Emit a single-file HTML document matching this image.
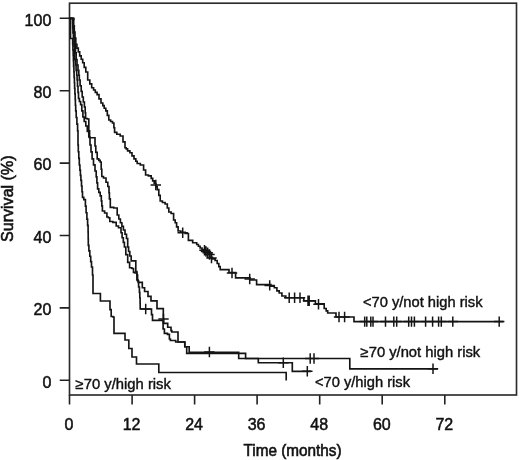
<!DOCTYPE html>
<html lang="en"><head><meta charset="utf-8"><title>Survival by age and risk group</title>
<style>
html,body{margin:0;padding:0;background:#fff;}
body{width:520px;height:460px;overflow:hidden;font-family:"Liberation Sans",Arial,Helvetica,sans-serif;}
svg{display:block;filter:blur(0.35px);}
</style></head><body>
<svg width="520" height="460" viewBox="0 0 520 460">
<rect width="520" height="460" fill="#fff"/>
<g fill="none" stroke="#141414" stroke-width="1.65" stroke-linejoin="miter">
<rect x="69.5" y="3.2" width="447.0" height="391.8" stroke="#2c2c2c" stroke-width="1.65"/>
<path d="M59.7,380.3H69.5M59.7,307.9H69.5M59.7,235.5H69.5M59.7,163.1H69.5M59.7,90.7H69.5M59.7,18.3H69.5M69.5,395.0V404.6M132.1,395.0V404.6M194.6,395.0V404.6M257.1,395.0V404.6M319.7,395.0V404.6M382.2,395.0V404.6M444.8,395.0V404.6" stroke-width="1.6" stroke="#222"/>
<path d="M69.5,18.3 L74.6,18.3 L74.0,18.3 L74.0,19.5 L73.4,19.5 L73.7,19.5 L73.7,25.8 L74.3,25.8 L74.3,32.0 L74.6,32.0 L75.0,32.0 L75.0,38.1 L75.8,38.1 L75.8,44.2 L76.2,44.2 L76.9,44.2 L76.9,48.1 L78.3,48.1 L78.3,51.9 L79.7,51.9 L79.7,55.8 L80.4,55.8 L81.2,55.8 L81.2,59.2 L82.7,59.2 L82.7,62.7 L83.5,62.7 L84.2,62.7 L84.2,67.3 L85.8,67.3 L85.8,72.0 L86.5,72.0 L87.7,72.0 L87.7,80.0 L88.8,80.0 L89.8,80.0 L89.8,83.8 L91.7,83.8 L91.7,87.7 L92.7,87.7 L93.6,87.7 L93.6,90.0 L95.3,90.0 L95.3,92.3 L97.1,92.3 L97.1,94.6 L98.0,94.6 L99.0,94.6 L99.0,98.8 L101.0,98.8 L101.0,103.0 L102.0,103.0 L102.8,103.0 L102.8,105.6 L104.2,105.6 L104.2,108.2 L105.8,108.2 L105.8,110.8 L106.5,110.8 L107.3,110.8 L107.3,115.4 L108.8,115.4 L108.8,120.0 L109.6,120.0 L110.6,120.0 L110.6,121.5 L112.5,121.5 L112.5,123.0 L113.5,123.0 L113.9,123.0 L113.9,127.7 L114.6,127.7 L114.6,132.3 L115.0,132.3 L116.8,132.3 L116.8,134.2 L120.2,134.2 L120.2,136.0 L122.0,136.0 L123.0,136.0 L123.0,141.8 L125.0,141.8 L125.0,147.7 L126.0,147.7 L126.2,147.7 L126.2,148.8 L126.5,148.8 L127.6,148.8 L127.6,150.8 L129.9,150.8 L129.9,152.7 L131.0,152.7 L132.0,152.7 L132.0,155.8 L134.0,155.8 L134.0,158.8 L135.0,158.8 L135.8,158.8 L135.8,161.2 L137.2,161.2 L137.2,163.5 L138.0,163.5 L140.3,163.5 L140.3,165.0 L142.7,165.0 L143.6,165.0 L143.6,170.0 L145.6,170.0 L145.6,175.0 L146.5,175.0 L148.4,175.0 L148.4,175.8 L150.4,175.8 L151.2,175.8 L151.2,178.4 L152.7,178.4 L152.7,180.9 L154.2,180.9 L154.2,183.5 L155.0,183.5 L155.8,183.5 L155.8,186.6 L157.2,186.6 L157.2,189.6 L158.0,189.6 L158.8,189.6 L158.8,195.3 L160.2,195.3 L160.2,201.0 L161.0,201.0 L162.4,201.0 L162.4,202.5 L165.1,202.5 L165.1,204.0 L166.5,204.0 L167.3,204.0 L167.3,208.0 L168.8,208.0 L168.8,212.0 L169.6,212.0 L171.1,212.0 L171.1,213.5 L172.7,213.5 L173.6,213.5 L173.6,220.0 L174.5,220.0 L175.2,220.0 L175.2,222.7 L175.8,222.7 L176.6,222.7 L176.6,226.8 L178.1,226.8 L178.1,231.0 L178.8,231.0 L180.9,231.0 L180.9,232.2 L185.2,232.2 L185.2,233.5 L187.3,233.5 L188.4,233.5 L188.4,240.4 L189.6,240.4 L192.7,240.4 L192.7,242.7 L195.8,242.7 L196.7,242.7 L196.7,244.5 L198.4,244.5 L198.4,246.2 L200.1,246.2 L200.1,248.0 L201.0,248.0 L202.0,248.0 L202.0,249.5 L204.0,249.5 L204.0,251.0 L205.0,251.0 L205.9,251.0 L205.9,252.2 L207.9,252.2 L207.9,253.5 L208.8,253.5 L209.9,253.5 L209.9,257.3 L211.0,257.3 L212.4,257.3 L212.4,258.9 L215.1,258.9 L215.1,260.5 L216.5,260.5 L217.2,260.5 L217.2,263.5 L218.8,263.5 L218.8,266.6 L220.2,266.6 L220.2,269.6 L221.0,269.6 L229.0,269.6 L229.0,272.5 L235.6,272.5 L235.6,277.8 L250.0,277.8 L250.0,280.0 L255.4,280.0 L256.6,280.0 L256.6,284.6 L257.7,284.6 L269.2,284.6 L270.9,284.6 L270.9,286.1 L274.3,286.1 L274.3,287.7 L276.0,287.7 L276.9,287.7 L276.9,290.8 L277.7,290.8 L279.2,290.8 L279.2,293.0 L280.8,293.0 L281.9,293.0 L281.9,296.0 L283.0,296.0 L285.8,296.0 L285.8,297.7 L288.5,297.7 L303.8,297.7 L303.8,300.8 L315.4,300.8 L315.4,303.8 L323.0,303.8 L324.2,303.8 L324.2,308.5 L325.4,308.5 L326.2,308.5 L326.2,310.8 L327.7,310.8 L327.7,313.0 L328.5,313.0 L336.0,313.0 L336.0,317.0 L354.0,317.0 L354.0,321.6 L503.4,321.6"/>
<path d="M150.6,185.0H161.0M155.8,179.8V190.2M177.5,232.7H187.9M182.7,227.5V237.9M199.3,250.3H209.7M204.5,245.1V255.5M200.8,251.5H211.2M206.0,246.3V256.7M202.5,252.7H212.9M207.7,247.5V257.9M204.3,254.5H214.7M209.5,249.3V259.7M206.3,258.0H216.7M211.5,252.8V263.2M226.8,273.0H237.2M232.0,267.8V278.2M244.5,279.0H254.9M249.7,273.8V284.2M264.5,285.4H274.9M269.7,280.2V290.6M284.0,297.7H294.4M289.2,292.5V302.9M289.4,297.7H299.8M294.6,292.5V302.9M294.8,297.7H305.2M300.0,292.5V302.9M302.8,300.8H313.2M308.0,295.6V306.0M304.0,300.8H314.4M309.2,295.6V306.0M313.3,304.2H323.7M318.5,299.0V309.4M333.8,317.0H344.2M339.0,311.8V322.2M339.4,317.0H349.8M344.6,311.8V322.2M359.5,321.6H369.9M364.7,316.4V326.8M361.6,321.6H372.0M366.8,316.4V326.8M365.6,321.6H376.0M370.8,316.4V326.8M367.8,321.6H378.2M373.0,316.4V326.8M380.3,321.6H390.7M385.5,316.4V326.8M388.6,321.6H399.0M393.8,316.4V326.8M391.5,321.6H401.9M396.7,316.4V326.8M403.5,321.6H413.9M408.7,316.4V326.8M406.3,321.6H416.7M411.5,316.4V326.8M409.2,321.6H419.6M414.4,316.4V326.8M420.4,321.6H430.8M425.6,316.4V326.8M427.4,321.6H437.8M432.6,316.4V326.8M433.4,321.6H443.8M438.6,316.4V326.8M436.1,321.6H446.5M441.3,316.4V326.8M447.6,321.6H458.0M452.8,316.4V326.8M494.0,321.6H504.4M499.2,316.4V326.8" stroke-width="1.5"/>
<path d="M69.5,18.3 L72.5,18.3 L72.6,18.3 L72.6,23.1 L72.7,23.1 L72.7,28.0 L72.8,28.0 L73.0,28.0 L73.0,33.0 L73.4,33.0 L73.4,38.0 L73.6,38.0 L74.0,38.0 L74.0,45.8 L74.4,45.8 L74.6,45.8 L74.6,52.7 L74.8,52.7 L74.8,59.6 L75.0,59.6 L75.4,59.6 L75.4,65.0 L76.1,65.0 L76.1,70.4 L76.5,70.4 L76.7,70.4 L76.7,75.2 L77.1,75.2 L77.1,80.0 L77.3,80.0 L77.5,80.0 L77.5,86.2 L78.0,86.2 L78.0,92.3 L78.5,92.3 L78.5,98.5 L78.8,98.5 L79.4,98.5 L79.4,101.5 L80.6,101.5 L80.6,104.6 L81.2,104.6 L81.8,104.6 L81.8,110.8 L82.9,110.8 L82.9,117.0 L83.5,117.0 L84.2,117.0 L84.2,121.5 L85.8,121.5 L85.8,126.0 L86.5,126.0 L87.3,126.0 L87.3,131.5 L88.8,131.5 L88.8,137.0 L89.6,137.0 L90.0,137.0 L90.0,145.0 L90.4,145.0 L91.0,145.0 L91.0,151.9 L92.1,151.9 L92.1,158.8 L92.7,158.8 L93.5,158.8 L93.5,164.9 L95.0,164.9 L95.0,171.0 L95.8,171.0 L96.2,171.0 L96.2,176.9 L96.9,176.9 L96.9,182.9 L97.6,182.9 L97.6,188.8 L98.0,188.8 L98.8,188.8 L98.8,192.3 L100.2,192.3 L100.2,195.8 L101.0,195.8 L101.3,195.8 L101.3,200.9 L101.8,200.9 L101.8,205.9 L102.4,205.9 L102.4,211.0 L102.7,211.0 L104.6,211.0 L104.6,213.0 L106.5,213.0 L106.9,213.0 L106.9,217.0 L107.3,217.0 L108.4,217.0 L108.4,217.7 L109.6,217.7 L109.8,217.7 L109.8,221.5 L110.1,221.5 L112.9,221.5 L112.9,222.3 L115.8,222.3 L116.2,222.3 L116.2,226.0 L116.5,226.0 L118.5,226.0 L118.5,227.7 L120.4,227.7 L121.0,227.7 L121.0,232.7 L122.1,232.7 L122.1,237.7 L122.7,237.7 L123.3,237.7 L123.3,242.3 L124.4,242.3 L124.4,247.0 L125.0,247.0 L125.8,247.0 L125.8,254.6 L126.5,254.6 L127.7,254.6 L127.7,262.3 L128.8,262.3 L129.6,262.3 L129.6,267.7 L130.4,267.7 L131.9,267.7 L131.9,268.5 L133.5,268.5 L133.5,272.3 L135.0,272.3 L135.0,273.0 L136.5,273.0 L136.8,273.0 L136.8,275.0 L137.0,275.0 L137.6,275.0 L137.6,281.0 L138.6,281.0 L138.6,287.0 L139.2,287.0 L139.4,287.0 L139.4,292.4 L139.8,292.4 L139.8,297.7 L140.0,297.7 L140.1,297.7 L140.1,303.4 L140.2,303.4 L140.2,309.0 L140.3,309.0 L151.0,309.0 L151.5,309.0 L151.5,314.6 L152.5,314.6 L152.5,320.3 L153.0,320.3 L162.8,320.3 L163.1,320.3 L163.1,329.0 L163.3,329.0 L164.4,329.0 L164.4,333.3 L165.6,333.3 L167.5,333.3 L167.5,334.3 L169.4,334.3 L169.4,339.0 L170.4,339.0 L170.4,340.5 L171.3,340.5 L175.7,340.5 L175.7,342.0 L180.0,342.0 L184.8,342.0 L184.8,346.7 L186.7,346.7 L186.7,353.4 L245.6,353.4 L245.6,358.5 L258.3,358.5 L258.3,362.7 L292.3,362.7 L292.3,371.3 L311.0,371.3"/>
<path d="M140.5,309.0H150.9M145.7,303.8V314.2M278.1,362.7H288.5M283.3,357.5V367.9M302.1,371.3H312.5M307.3,366.1V376.5" stroke-width="1.5"/>
<path d="M69.5,18.3 L72.9,18.3 L73.0,18.3 L73.0,23.1 L73.1,23.1 L73.1,28.0 L73.2,28.0 L73.5,28.0 L73.5,33.0 L74.0,33.0 L74.0,38.0 L74.2,38.0 L74.7,38.0 L74.7,45.8 L75.2,45.8 L75.5,45.8 L75.5,52.7 L76.2,52.7 L76.2,59.6 L76.5,59.6 L77.0,59.6 L77.0,65.0 L78.0,65.0 L78.0,70.4 L78.5,70.4 L78.8,70.4 L78.8,75.2 L79.3,75.2 L79.3,80.0 L79.6,80.0 L80.1,80.0 L80.1,85.7 L81.2,85.7 L81.2,91.3 L82.2,91.3 L82.2,97.0 L82.7,97.0 L83.3,97.0 L83.3,102.0 L84.4,102.0 L84.4,107.0 L85.0,107.0 L85.2,107.0 L85.2,112.8 L85.6,112.8 L85.6,118.5 L85.8,118.5 L87.3,118.5 L87.3,119.0 L88.8,119.0 L88.8,130.8 L89.6,130.8 L89.6,137.7 L90.4,137.7 L95.0,137.7 L95.0,146.0 L95.8,146.0 L95.8,152.4 L97.2,152.4 L97.2,158.8 L98.0,158.8 L98.8,158.8 L98.8,160.4 L100.2,160.4 L100.2,162.0 L101.0,162.0 L101.2,162.0 L101.2,169.2 L101.8,169.2 L101.8,176.5 L102.0,176.5 L103.5,176.5 L103.5,178.0 L105.0,178.0 L106.0,178.0 L106.0,182.2 L107.8,182.2 L107.8,186.5 L108.8,186.5 L109.0,186.5 L109.0,192.7 L109.4,192.7 L109.4,198.8 L109.6,198.8 L110.3,198.8 L110.3,207.3 L111.0,207.3 L113.8,207.3 L113.8,208.0 L116.5,208.0 L117.2,208.0 L117.2,215.0 L118.0,215.0 L118.8,215.0 L118.8,219.0 L119.6,219.0 L120.4,219.0 L120.4,222.7 L121.9,222.7 L121.9,226.3 L123.4,226.3 L123.4,230.0 L124.2,230.0 L125.0,230.0 L125.0,234.2 L126.5,234.2 L126.5,238.5 L127.3,238.5 L127.7,238.5 L127.7,247.0 L128.0,247.0 L128.6,247.0 L128.6,251.5 L129.8,251.5 L129.8,256.0 L130.4,256.0 L131.2,256.0 L131.2,260.8 L132.0,260.8 L135.8,260.8 L135.8,271.5 L136.9,271.5 L136.9,280.0 L138.0,280.0 L138.2,280.0 L138.2,282.3 L138.5,282.3 L142.3,282.3 L142.3,287.7 L144.6,287.7 L144.6,291.5 L148.0,291.5 L148.0,296.4 L151.0,296.4 L151.0,300.8 L157.0,300.8 L157.0,308.6 L163.3,308.6 L163.3,318.9 L163.6,318.9 L163.6,323.3 L163.8,323.3 L167.7,323.3 L167.7,327.2 L171.0,327.2 L171.0,330.6 L171.8,330.6 L171.8,332.0 L172.6,332.0 L178.0,332.0 L178.0,342.0 L184.8,342.0 L184.8,346.7 L189.2,346.7 L189.2,352.2 L238.7,352.2 L238.7,358.5 L349.8,358.5 L349.8,368.8 L437.8,368.8"/>
<path d="M158.3,319.0H168.7M163.5,313.8V324.2M204.2,352.0H214.6M209.4,346.8V357.2M305.0,358.5H315.4M310.2,353.3V363.7M308.8,358.5H319.2M314.0,353.3V363.7M427.8,368.8H438.2M433.0,363.6V374.0" stroke-width="1.5"/>
<path d="M69.5,18.3 L70.5,18.3 L70.5,38.5 L72.6,38.5 L72.7,38.5 L72.7,44.1 L72.9,44.1 L72.9,49.8 L73.2,49.8 L73.2,55.4 L73.4,55.4 L73.4,61.0 L73.5,61.0 L73.6,61.0 L73.6,66.4 L73.9,66.4 L73.9,71.8 L74.1,71.8 L74.1,77.3 L74.4,77.3 L74.4,82.7 L74.5,82.7 L74.6,82.7 L74.6,88.3 L74.9,88.3 L74.9,93.9 L75.2,93.9 L75.2,99.6 L75.4,99.6 L75.4,105.2 L75.7,105.2 L75.7,110.8 L75.8,110.8 L76.2,110.8 L76.2,117.5 L76.9,117.5 L76.9,124.1 L77.6,124.1 L77.6,130.8 L78.0,130.8 L78.0,145.0 L78.3,145.0 L78.3,151.7 L78.8,151.7 L78.8,158.3 L79.3,158.3 L79.3,165.0 L79.6,165.0 L79.9,165.0 L79.9,170.1 L80.4,170.1 L80.4,175.3 L80.9,175.3 L80.9,180.4 L81.2,180.4 L81.5,180.4 L81.5,186.0 L82.0,186.0 L82.0,191.7 L82.5,191.7 L82.5,197.3 L82.7,197.3 L83.8,197.3 L83.8,199.6 L85.0,199.6 L85.4,199.6 L85.4,206.1 L86.1,206.1 L86.1,212.7 L86.5,212.7 L86.9,212.7 L86.9,219.1 L87.6,219.1 L87.6,225.4 L88.0,225.4 L88.1,225.4 L88.1,232.1 L88.2,232.1 L88.2,238.7 L88.3,238.7 L88.3,245.4 L88.4,245.4 L88.9,245.4 L88.9,250.8 L89.8,250.8 L89.8,256.2 L90.7,256.2 L90.7,261.6 L91.5,261.6 L91.5,267.0 L92.0,267.0 L92.5,267.0 L92.5,275.0 L93.0,275.0 L93.0,293.5 L100.4,293.5 L100.4,301.0 L109.6,301.0 L110.0,301.0 L110.0,309.6 L110.4,309.6 L111.2,309.6 L111.2,316.5 L112.0,316.5 L113.0,316.5 L113.0,317.0 L114.0,317.0 L114.0,333.3 L125.0,333.3 L125.0,340.0 L128.8,340.0 L128.8,348.5 L132.0,348.5 L132.0,357.0 L136.5,357.0 L136.5,364.0 L158.8,364.0 L158.8,372.5 L286.2,372.5 L286.2,380.4"/>
</g>
<g font-family="'Liberation Sans', Arial, Helvetica, sans-serif" fill="#111" stroke="#111" stroke-width="0.5" font-size="16">
<text x="51.3" y="387.6" text-anchor="end">0</text>
<text x="51.3" y="315.2" text-anchor="end">20</text>
<text x="51.3" y="242.8" text-anchor="end">40</text>
<text x="51.3" y="170.4" text-anchor="end">60</text>
<text x="51.3" y="98.0" text-anchor="end">80</text>
<text x="51.3" y="25.6" text-anchor="end">100</text>
<text x="69.0" y="430.3" text-anchor="middle">0</text>
<text x="131.6" y="430.3" text-anchor="middle">12</text>
<text x="194.1" y="430.3" text-anchor="middle">24</text>
<text x="256.6" y="430.3" text-anchor="middle">36</text>
<text x="319.2" y="430.3" text-anchor="middle">48</text>
<text x="381.8" y="430.3" text-anchor="middle">60</text>
<text x="444.3" y="430.3" text-anchor="middle">72</text>
<text x="292.5" y="455.8" text-anchor="middle" textLength="98" lengthAdjust="spacingAndGlyphs" stroke-width="0.6">Time (months)</text>
<text transform="translate(13.4,198.7) rotate(-90)" text-anchor="middle" textLength="86.5" lengthAdjust="spacingAndGlyphs" stroke-width="0.6">Survival (%)</text>
</g>
<g font-family="'Liberation Sans', Arial, Helvetica, sans-serif" fill="#111" stroke="#111" stroke-width="0.4" font-size="14.5">
<text x="362.9" y="307.1" textLength="119.6" lengthAdjust="spacingAndGlyphs">&lt;70 y/not high risk</text>
<text x="360.6" y="357.0" textLength="119.6" lengthAdjust="spacingAndGlyphs">≥70 y/not high risk</text>
<text x="315.0" y="387.0" textLength="95.0" lengthAdjust="spacingAndGlyphs">&lt;70 y/high risk</text>
<text x="75.6" y="388.7" textLength="95.3" lengthAdjust="spacingAndGlyphs">≥70 y/high risk</text>
</g>
</svg>
</body></html>
